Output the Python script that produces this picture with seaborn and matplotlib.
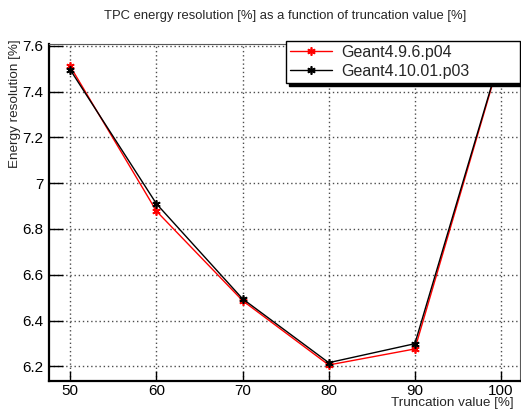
import seaborn as sns
import matplotlib.pyplot as plt
import pandas as pd

# データ
trunc = [50, 60, 70, 80, 90, 100]
res_g4_9 = [7.510, 6.878, 6.487, 6.206, 6.276, 7.560]
res_g4_10 = [7.495, 6.910, 6.495, 6.216, 6.299, 7.565]
versions = ['Geant4.9.6.p04', 'Geant4.10.01.p03']
colors = ['red', 'black']

df = pd.concat([
    pd.DataFrame({'trunc': trunc, 'res': res_g4_9, 'version': versions[0]}),
    pd.DataFrame({'trunc': trunc, 'res': res_g4_10, 'version': versions[1]}),
])

sns.set_style('white')
plt.rcParams['font.family'] = ['Liberation Sans', 'DejaVu Sans']

fig = plt.figure(figsize=(5.21, 4.11), dpi=100)
ax = fig.add_axes([0.0946, 0.073, 0.9034, 0.821])

asterisk = (6, 2, 0)
for name, c in zip(versions, colors):
    sub = df[df['version'] == name]
    sns.lineplot(data=sub, x='trunc', y='res', color=c, label=name, ax=ax,
                 marker=asterisk, markersize=6, markeredgecolor=c,
                 markeredgewidth=1.2, linewidth=1)

ax.set_xlim(47.56, 102.2)
ax.set_ylim(6.136, 7.61)
ax.set_xticks([50, 60, 70, 80, 90, 100])
ax.set_xticks([x for x in range(48, 103, 2) if x % 10], minor=True)
ax.set_yticks([6.2, 6.4, 6.6, 6.8, 7.0, 7.2, 7.4, 7.6])
ax.set_yticklabels(['6.2', '6.4', '6.6', '6.8', '7', '7.2', '7.4', '7.6'])
ax.set_yticks([6.15 + 0.05 * i for i in range(30) if round((6.15 + 0.05 * i) * 10, 3) % 2], minor=True)

ax.tick_params(axis='both', which='both', direction='in', labelsize=11, colors='black')
ax.tick_params(axis='x', which='major', length=7.2, width=1, pad=2.5)
ax.tick_params(axis='x', which='minor', length=3.6, width=1)
ax.tick_params(axis='y', which='major', length=10, width=1, pad=4)
ax.tick_params(axis='y', which='minor', length=5, width=1)
ax.tick_params(left=True, bottom=True)

ax.grid(True, which='major', color='0.3', linestyle=(0, (1, 2)), linewidth=1)

for s in ['left', 'bottom']:
    ax.spines[s].set_linewidth(1.6)
    ax.spines[s].set_color('black')
for s in ['top', 'right']:
    ax.spines[s].set_linewidth(0.8)
    ax.spines[s].set_color('0.35')

ax.set_xlabel('')
ax.set_ylabel('')
fig.text(0.985, 0.019, 'Truncation value [%]', ha='right', va='center', fontsize=9.7)
fig.text(0.029, 0.905, 'Energy resolution [%]', ha='center', va='top', rotation=90, fontsize=9.7)
fig.text(0.547, 0.962, 'TPC energy resolution [%] as a function of truncation value [%]',
         ha='center', va='center', fontsize=9.4)

leg = ax.legend(loc='lower left', bbox_to_anchor=(0.503, 0.883, 0.497, 0.124), mode='expand',
                borderaxespad=0, fancybox=False, edgecolor='black', framealpha=1,
                shadow={'color': 'black', 'alpha': 1}, fontsize=11.5, handlelength=2.6,
                labelspacing=0.25, borderpad=0.25, handletextpad=0.6)
leg.get_frame().set_linewidth(1)

fig.savefig('out.png', dpi=100)
